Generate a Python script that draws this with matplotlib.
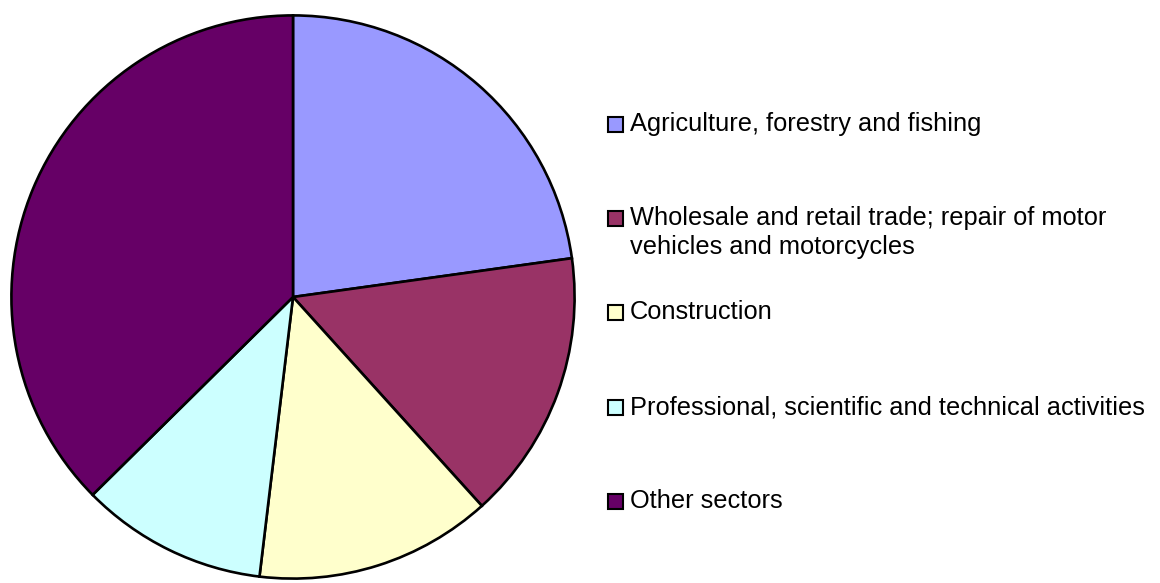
import matplotlib.pyplot as plt
from matplotlib.patches import Rectangle

# ========== DONNÉES ==========
secteurs = [
    "Agriculture, forestry and fishing",
    "Wholesale and retail trade; repair of motor\nvehicles and motorcycles",
    "Construction",
    "Professional, scientific and technical activities",
    "Other sectors",
]
parts = [22.8, 15.5, 13.6, 10.7, 37.4]
couleurs = ["#9999FF", "#993366", "#FFFFCC", "#CCFFFF", "#660066"]

# ========== FIGURE ==========
W, H = 1160, 583
fig = plt.figure(figsize=(W / 100, H / 100), dpi=100)
plt.rcParams['font.family'] = ['Liberation Sans', 'DejaVu Sans']

# camembert : centre (293, 297) px, rayon ~283 px
cx, cy, r = 293, 297, 283
ax = fig.add_axes([(cx - r) / W, (H - cy - r) / H, 2 * r / W, 2 * r / H])
ax.pie(parts, colors=couleurs, startangle=90, counterclock=False,
       wedgeprops=dict(edgecolor='black', linewidth=1.9))
ax.set_xlim(-1.005, 1.005)
ax.set_ylim(-1.005, 1.005)
ax.set_aspect('auto')

# ========== LÉGENDE (manuelle) ==========
y_centres = [124, 218, 312, 407, 501]
taille = 15
for nom, coul, yc in zip(secteurs, couleurs, y_centres):
    fig.add_artist(Rectangle((608 / W, (H - yc - taille / 2) / H), taille / W, taille / H,
                             facecolor=coul, edgecolor='black', linewidth=1.5,
                             transform=fig.transFigure))
    lignes = nom.split('\n')
    for i, ligne in enumerate(lignes):
        fig.text(630 / W, (H - yc - 29 * i) / H, ligne, fontsize=18.3,
                 va='center', ha='left')

fig.savefig("out.png", dpi=100)
